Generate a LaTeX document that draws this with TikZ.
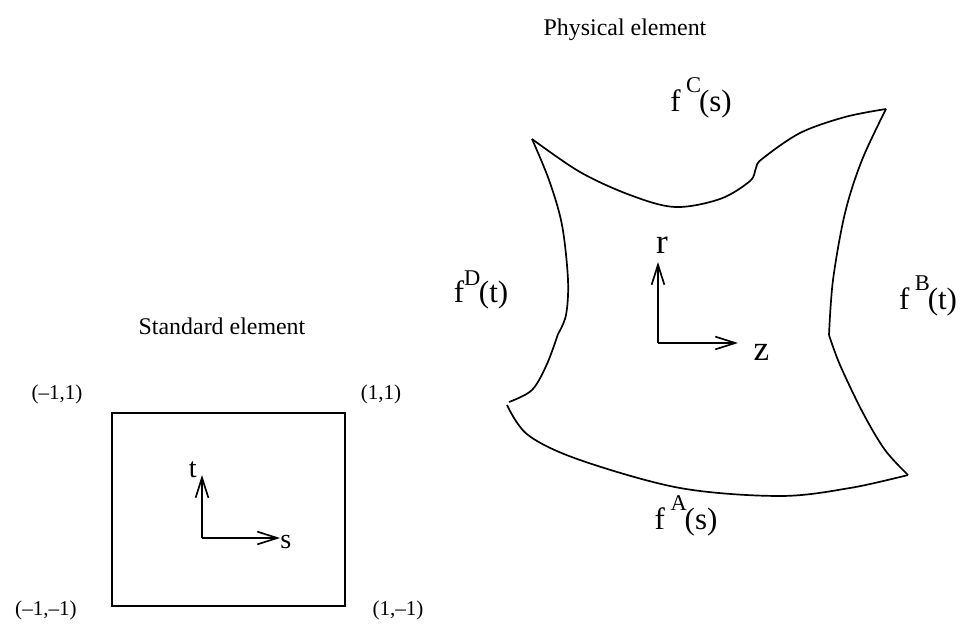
\documentclass[tikz,border=0pt]{standalone}
\usepackage{fontspec}
\setmainfont{Liberation Serif}
\usetikzlibrary{arrows.meta}

\newcommand{\fsup}[2]{f\kern4pt\raisebox{1.3ex}{\fontsize{16}{16}\selectfont #1}\kern-1.5pt(#2)}
\newcommand{\fsupD}[2]{f\raisebox{1.25ex}{\fontsize{16}{16}\selectfont #1}\kern-1pt(#2)}

\begin{document}
\begin{tikzpicture}[
    x=0.025cm, y=-0.025cm,
    edge/.style={line width=1.2pt},
    axis/.style={-{Straight Barb[length=5mm,width=3.2mm]}, line width=1.2pt},
    corner/.style={font=\fontsize{15}{18}\selectfont},
    title/.style={font=\fontsize{17}{20}\selectfont},
    flab/.style={font=\fontsize{22}{26}\selectfont, inner sep=1pt},
    axlab/.style={font=\fontsize{25}{28}\selectfont, inner sep=1pt}
  ]
    \useasboundingbox (0,0) rectangle (960,625);
    % standard element
    \node[title] (stdtitle) at (222,326) {Standard element};
    \draw[edge] (112,413) rectangle (345,606);
    \node[corner] (c1) at (57,394) {(--1,1)};
    \node[corner] (c2) at (381,394) {(1,1)};
    \node[corner] (c3) at (46,610) {(--1,--1)};
    \node[corner] (c4) at (398,610) {(1,--1)};
    \coordinate (so) at (202,538);
    \coordinate (tt) at (202,475);
    \coordinate (st) at (280,538);
    \draw[axis] (so) -- (tt);
    \draw[axis] (so) -- (st);
    \node[font=\fontsize{20}{22}\selectfont, anchor=south east, inner sep=0pt] (tlab) at (197,478) {t};
    \node[font=\fontsize{20}{22}\selectfont, anchor=west, inner sep=0pt] (slab) at (280,542) {s};

    % physical element
    \node[title] (phystitle) at (625,30) {Physical element};
    % top edge (C)
    \draw[edge] plot[smooth, tension=0.55] coordinates {(532,139) (580,172) (630,195) (675,207) (720,199) (750,181) (756,168) (762,159) (800,133) (845,117) (886,109)};
    % right edge (B)
    \draw[edge] plot[smooth, tension=0.55] coordinates {(886,109) (862,160) (845,213) (833,280) (829,335)};
    \draw[edge] plot[smooth, tension=0.55] coordinates {(829,335) (840,365) (863,413) (885,450) (908,475)};
    % bottom edge (A)
    \draw[edge] plot[smooth, tension=0.55] coordinates {(908,475) (850,488) (780,496) (680,488) (580,460) (528,435) (507,405)};
    % left edge (D)
    \draw[edge] plot[smooth, tension=0.55] coordinates {(509,402) (532,390) (547,364) (558,334)};
    \draw[edge] plot[smooth, tension=0.55] coordinates {(558,334) (566,315) (568,280) (562,225) (549,180) (532,139)};
    \coordinate (po) at (658,343);
    \coordinate (rt) at (658,262);
    \coordinate (zt) at (738,343);
    \draw[axis] (po) -- (rt);
    \draw[axis] (po) -- (zt);
    \node[axlab, anchor=south] (rlab) at (662,255) {r};
    \node[axlab, anchor=west] (zlab) at (752,352) {z};
    \node[flab] (fC) at (701,98) {\fsup{C}{s}};
    \node[flab] (fD) at (481,290) {\fsupD{D}{t}};
    \node[flab] (fB) at (928,296) {\fsup{B}{t}};
    \node[flab] (fA) at (686,516) {\fsup{A}{s}};
  \end{tikzpicture}
\end{document}
